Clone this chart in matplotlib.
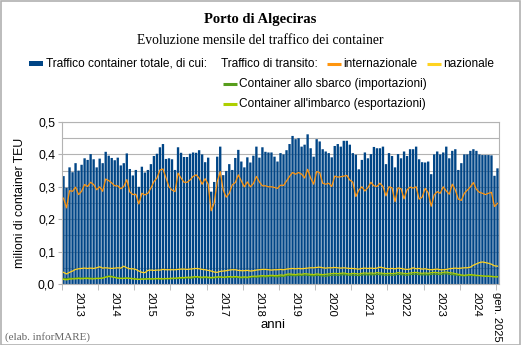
import numpy as np
import matplotlib
matplotlib.use("Agg")
import matplotlib.pyplot as plt
from matplotlib.patches import Rectangle
from matplotlib.lines import Line2D

# Monthly container traffic, Jan 2013 .. Jan 2025 (million TEU)
totale = [
    0.333, 0.297, 0.360, 0.345, 0.373, 0.350, 0.368, 0.388, 0.383, 0.401, 0.385, 0.360,
    0.387, 0.373, 0.408, 0.396, 0.389, 0.382, 0.390, 0.366, 0.373, 0.403, 0.355, 0.335,
    0.352, 0.300, 0.362, 0.344, 0.352, 0.370, 0.395, 0.402, 0.422, 0.432, 0.386, 0.388,
    0.385, 0.352, 0.422, 0.405, 0.392, 0.392, 0.402, 0.406, 0.405, 0.413, 0.400, 0.376,
    0.390, 0.285, 0.315, 0.393, 0.424, 0.336, 0.349, 0.370, 0.352, 0.389, 0.414, 0.378,
    0.360, 0.391, 0.375, 0.396, 0.424, 0.390, 0.422, 0.408, 0.406, 0.406, 0.393, 0.378,
    0.404, 0.400, 0.413, 0.432, 0.457, 0.447, 0.450, 0.424, 0.430, 0.462, 0.419, 0.393,
    0.447, 0.440, 0.416, 0.409, 0.404, 0.391, 0.426, 0.432, 0.424, 0.442, 0.442, 0.430,
    0.404, 0.399, 0.354, 0.383, 0.406, 0.388, 0.401, 0.423, 0.419, 0.419, 0.424, 0.370,
    0.404, 0.395, 0.360, 0.401, 0.388, 0.409, 0.395, 0.416, 0.416, 0.424, 0.385, 0.376,
    0.375, 0.378, 0.339, 0.400, 0.409, 0.400, 0.406, 0.424, 0.388, 0.411, 0.416, 0.352,
    0.373, 0.400, 0.400, 0.411, 0.416, 0.411, 0.400, 0.398, 0.398, 0.398, 0.397, 0.334,
    0.357,
]
internazionale = [
    0.265, 0.235, 0.288, 0.286, 0.299, 0.276, 0.286, 0.307, 0.301, 0.314, 0.307, 0.291,
    0.300, 0.286, 0.324, 0.319, 0.312, 0.303, 0.303, 0.294, 0.301, 0.322, 0.284, 0.276,
    0.277, 0.247, 0.280, 0.275, 0.280, 0.296, 0.316, 0.327, 0.352, 0.355, 0.327, 0.300,
    0.290, 0.285, 0.342, 0.327, 0.314, 0.314, 0.321, 0.332, 0.337, 0.327, 0.308, 0.325,
    0.308, 0.226, 0.250, 0.316, 0.347, 0.290, 0.268, 0.280, 0.306, 0.313, 0.337, 0.318,
    0.300, 0.315, 0.300, 0.310, 0.332, 0.315, 0.303, 0.303, 0.300, 0.300, 0.298, 0.295,
    0.305, 0.304, 0.318, 0.332, 0.344, 0.339, 0.344, 0.339, 0.327, 0.354, 0.327, 0.308,
    0.347, 0.344, 0.311, 0.308, 0.311, 0.301, 0.333, 0.330, 0.331, 0.333, 0.335, 0.321,
    0.314, 0.270, 0.290, 0.300, 0.287, 0.297, 0.314, 0.303, 0.301, 0.311, 0.301, 0.272,
    0.300, 0.297, 0.254, 0.297, 0.294, 0.263, 0.291, 0.299, 0.296, 0.300, 0.262, 0.268,
    0.295, 0.282, 0.240, 0.275, 0.285, 0.280, 0.300, 0.287, 0.277, 0.308, 0.290, 0.262,
    0.258, 0.280, 0.290, 0.300, 0.313, 0.292, 0.283, 0.280, 0.276, 0.280, 0.283, 0.239,
    0.249,
]
nazionale = [
    0.036, 0.031, 0.036, 0.040, 0.045, 0.047, 0.048, 0.049, 0.048, 0.049, 0.048, 0.050,
    0.053, 0.049, 0.050, 0.049, 0.048, 0.049, 0.050, 0.049, 0.055, 0.050, 0.047, 0.047,
    0.045, 0.040, 0.036, 0.035, 0.042, 0.043, 0.042, 0.043, 0.043, 0.045, 0.044, 0.044,
    0.044, 0.044, 0.045, 0.046, 0.046, 0.045, 0.046, 0.047, 0.048, 0.047, 0.045, 0.044,
    0.042, 0.040, 0.037, 0.036, 0.039, 0.040, 0.041, 0.043, 0.044, 0.044, 0.042, 0.041,
    0.041, 0.042, 0.040, 0.041, 0.043, 0.044, 0.045, 0.045, 0.044, 0.043, 0.044, 0.044,
    0.045, 0.044, 0.046, 0.047, 0.048, 0.047, 0.048, 0.047, 0.048, 0.049, 0.050, 0.050,
    0.051, 0.052, 0.050, 0.049, 0.050, 0.050, 0.051, 0.050, 0.049, 0.050, 0.049, 0.048,
    0.048, 0.047, 0.046, 0.048, 0.049, 0.048, 0.049, 0.048, 0.049, 0.052, 0.050, 0.048,
    0.047, 0.048, 0.047, 0.049, 0.048, 0.046, 0.045, 0.046, 0.050, 0.047, 0.048, 0.046,
    0.047, 0.045, 0.044, 0.045, 0.046, 0.044, 0.044, 0.045, 0.047, 0.048, 0.049, 0.048,
    0.049, 0.050, 0.050, 0.052, 0.058, 0.062, 0.066, 0.068, 0.066, 0.064, 0.061, 0.056,
    0.055,
]
sbarco = [
    0.017, 0.016, 0.018, 0.017, 0.018, 0.019, 0.018, 0.018, 0.019, 0.018, 0.017, 0.018,
    0.018, 0.019, 0.022, 0.025, 0.024, 0.021, 0.019, 0.018, 0.018, 0.019, 0.018, 0.017,
    0.016, 0.015, 0.016, 0.016, 0.016, 0.015, 0.016, 0.016, 0.015, 0.016, 0.016, 0.016,
    0.016, 0.017, 0.017, 0.018, 0.018, 0.019, 0.018, 0.019, 0.021, 0.020, 0.019, 0.020,
    0.019, 0.018, 0.019, 0.020, 0.021, 0.020, 0.020, 0.021, 0.020, 0.021, 0.020, 0.019,
    0.020, 0.019, 0.021, 0.022, 0.021, 0.022, 0.023, 0.022, 0.023, 0.024, 0.023, 0.022,
    0.024, 0.023, 0.026, 0.027, 0.026, 0.025, 0.027, 0.026, 0.028, 0.027, 0.026, 0.025,
    0.027, 0.026, 0.025, 0.024, 0.026, 0.027, 0.028, 0.027, 0.028, 0.029, 0.028, 0.027,
    0.028, 0.027, 0.026, 0.028, 0.029, 0.028, 0.029, 0.028, 0.030, 0.029, 0.028, 0.027,
    0.028, 0.027, 0.028, 0.030, 0.029, 0.028, 0.027, 0.029, 0.030, 0.031, 0.029, 0.028,
    0.029, 0.028, 0.030, 0.031, 0.030, 0.029, 0.031, 0.032, 0.030, 0.029, 0.028, 0.027,
    0.026, 0.025, 0.026, 0.027, 0.026, 0.025, 0.026, 0.025, 0.024, 0.025, 0.024, 0.023,
    0.023,
]
imbarco = [
    0.014, 0.013, 0.015, 0.016, 0.016, 0.017, 0.016, 0.017, 0.017, 0.016, 0.016, 0.017,
    0.017, 0.018, 0.021, 0.023, 0.022, 0.020, 0.018, 0.017, 0.017, 0.018, 0.017, 0.016,
    0.015, 0.014, 0.015, 0.015, 0.016, 0.016, 0.016, 0.017, 0.017, 0.016, 0.017, 0.017,
    0.018, 0.018, 0.019, 0.020, 0.020, 0.021, 0.021, 0.022, 0.023, 0.022, 0.021, 0.022,
    0.021, 0.020, 0.021, 0.022, 0.022, 0.021, 0.022, 0.023, 0.022, 0.023, 0.022, 0.021,
    0.022, 0.021, 0.023, 0.024, 0.024, 0.025, 0.026, 0.025, 0.026, 0.027, 0.026, 0.026,
    0.028, 0.027, 0.030, 0.031, 0.030, 0.029, 0.031, 0.030, 0.032, 0.031, 0.030, 0.029,
    0.031, 0.030, 0.029, 0.030, 0.031, 0.032, 0.033, 0.032, 0.033, 0.034, 0.032, 0.031,
    0.033, 0.032, 0.031, 0.033, 0.034, 0.033, 0.034, 0.033, 0.035, 0.034, 0.033, 0.032,
    0.033, 0.032, 0.033, 0.035, 0.034, 0.033, 0.032, 0.034, 0.035, 0.036, 0.034, 0.033,
    0.034, 0.033, 0.035, 0.036, 0.035, 0.034, 0.036, 0.037, 0.035, 0.034, 0.032, 0.030,
    0.028, 0.027, 0.028, 0.029, 0.028, 0.027, 0.026, 0.025, 0.024, 0.024, 0.023, 0.022,
    0.022,
]
anni = ["2013", "2014", "2015", "2016", "2017", "2018", "2019",
        "2020", "2021", "2022", "2023", "2024"]
ultima_etichetta = "gen. 2025"
y_ticks = [0.0, 0.1, 0.2, 0.3, 0.4, 0.5]

BLU = "#004586"
ARANCIO = "#ff950e"
GIALLO = "#ffd320"
VERDE = "#579d1c"
VERDE_CHIARO = "#aecf00"
GRIGIO = "#b3b3b3"

SANS = ["Liberation Sans", "DejaVu Sans"]
SERIF = ["Liberation Serif", "DejaVu Serif"]

W, H = 521, 345
fig = plt.figure(figsize=(W / 100, H / 100), dpi=100)
fig.patch.set_facecolor("white")

def fx(px):
    return px / W

def fy(py):
    return 1 - py / H

ax = fig.add_axes([fx(62), fy(284), fx(499) - fx(62), fy(122) - fy(284)])
x = np.arange(len(totale))

bars = ax.bar(x, totale, width=0.78, color=BLU, linewidth=0, zorder=2)
for b in bars:
    b.set_snap(False)
ax.plot(x, internazionale, color=ARANCIO, lw=0.9, zorder=3)
ax.plot(x, nazionale, color=GIALLO, lw=0.9, zorder=3)
ax.plot(x, sbarco, color=VERDE, lw=0.9, zorder=3)
ax.plot(x, imbarco, color=VERDE_CHIARO, lw=0.9, zorder=3)

ax.set_xlim(-0.5, len(totale) - 0.5)
ax.set_ylim(0, 0.5)

# horizontal grid every 0.05
ax.set_yticks(y_ticks)
ax.set_yticks(np.arange(0.05, 0.5, 0.1), minor=True)
ax.set_yticklabels([f"{v:.1f}".replace(".", ",") for v in y_ticks],
                   fontfamily=SANS, fontsize=8.8)
ax.grid(axis="y", which="both", color=GRIGIO, lw=0.8, zorder=0)
ax.set_axisbelow(True)
ax.tick_params(axis="y", which="major", length=3, color=GRIGIO, pad=2)
ax.tick_params(axis="y", which="minor", length=0)

# year boundaries as ticks, year names centred in each year
confini = [12 * k - 0.5 for k in range(len(anni) + 1)]
ax.set_xticks(confini, minor=True)
pos_etichette = [12 * k + 5 for k in range(len(anni))] + [len(totale) - 1]
ax.set_xticks(pos_etichette)
ax.set_xticklabels(anni + [ultima_etichetta], rotation=270, fontfamily=SANS,
                   fontsize=8, va="top", ha="center")
ax.tick_params(axis="x", which="major", length=0, pad=6)
ax.tick_params(axis="x", which="minor", length=4, color=GRIGIO)

for s in ax.spines.values():
    s.set_color(GRIGIO)
    s.set_linewidth(0.8)

fig.text(fx(20), fy(203), "milioni di container TEU", fontfamily=SANS,
         fontsize=8.8, rotation=90, ha="center", va="center")
fig.text(fx(273), fy(325), "anni", fontfamily=SANS, fontsize=9.5,
         ha="center", va="center")

# titles
fig.text(fx(260), fy(20), "Porto di Algeciras", fontfamily=SERIF,
         fontweight="bold", fontsize=10.5, ha="center", va="center")
fig.text(fx(260), fy(40), "Evoluzione mensile del traffico dei container",
         fontfamily=SERIF, fontsize=9.8, ha="center", va="center")
fig.text(fx(5), fy(337), "(elab. inforMARE)", fontfamily=SERIF, fontsize=8,
         color="#666666", ha="left", va="center")

# legend
fs_leg = 8.6
fig.patches.append(Rectangle((fx(29), fy(66)), fx(14), fy(61) - fy(66),
                             transform=fig.transFigure, color=BLU, lw=0))
fig.text(fx(46), fy(64), "Traffico container totale, di cui:", fontfamily=SANS,
         fontsize=fs_leg, ha="left", va="center")
fig.text(fx(221), fy(64), "Traffico di transito:", fontfamily=SANS,
         fontsize=fs_leg, ha="left", va="center")

def voce(x0, y0, colore, testo):
    fig.lines.append(Line2D([fx(x0), fx(x0 + 14)], [fy(y0), fy(y0)],
                            transform=fig.transFigure, color=colore, lw=2.2,
                            solid_capstyle="butt"))
    fig.text(fx(x0 + 16), fy(y0), testo, fontfamily=SANS, fontsize=fs_leg,
             ha="left", va="center")

voce(327, 64, ARANCIO, "internazionale")
voce(427, 64, GIALLO, "nazionale")
voce(223, 84, VERDE, "Container allo sbarco (importazioni)")
voce(223, 104, VERDE_CHIARO, "Container all'imbarco (esportazioni)")

# outer frame
fig.patches.append(Rectangle((0.5 / W, 0.5 / H), 1 - 1.5 / W, 1 - 1.5 / H,
                             transform=fig.transFigure, fill=False,
                             edgecolor="#b0b0b0", lw=1.2))

fig.savefig("out.png", dpi=100)
